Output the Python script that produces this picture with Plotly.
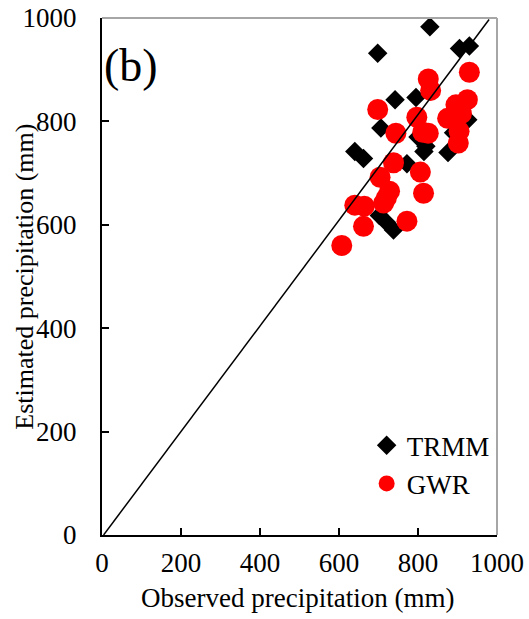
import plotly.graph_objects as go

# TRMM estimates vs observed
trmm_obs = [830, 698, 905, 930, 742, 795, 706, 926, 640, 662, 772, 815, 876, 702, 720, 738, 890, 800, 820]
trmm_est = [983, 932, 941, 946, 842, 846, 787, 803, 742, 728, 718, 742, 740, 618, 605, 590, 778, 770, 752]

# GWR estimates vs observed
gwr_obs = [607, 662, 772, 640, 664, 713, 720, 728, 738, 704, 806, 814, 744, 698, 797, 812, 826, 826, 832, 930, 925, 896, 875, 904, 902, 910]
gwr_est = [560, 597, 607, 638, 636, 642, 652, 665, 720, 692, 702, 661, 777, 823, 808, 779, 777, 882, 860, 895, 842, 832, 806, 781, 758, 815]

# 1:1 reference line
ref_x = [4, 980]
ref_y = [0, 997]

tick_vals = [0, 200, 400, 600, 800, 1000]
tick_text = ["0", "200", "400", "600", "800", "1000"]

FONT = "Liberation Serif"

fig = go.Figure()
fig.add_trace(go.Scatter(x=trmm_obs, y=trmm_est, mode="markers", name="TRMM",
                         marker=dict(symbol="diamond", size=15, color="black")))
fig.add_trace(go.Scatter(x=gwr_obs, y=gwr_est, mode="markers", name="GWR",
                         marker=dict(symbol="circle", size=21, color="#FF0000")))
fig.add_trace(go.Scatter(x=ref_x, y=ref_y, mode="lines", showlegend=False,
                         line=dict(color="black", width=1.5)))

fig.update_layout(
    width=529, height=619,
    margin=dict(l=102, r=32, t=18, b=84),
    paper_bgcolor="white", plot_bgcolor="white",
    font=dict(family=FONT, size=27, color="black"),
    showlegend=True,
    legend=dict(x=0.67, y=0.22, xanchor="left", yanchor="top",
                bgcolor="rgba(0,0,0,0)", font=dict(family=FONT, size=27),
                itemwidth=30, tracegroupgap=0),
    shapes=[
        dict(type="line", xref="paper", yref="paper", x0=0, x1=1, y0=1, y1=1,
             line=dict(color="#A6A6A6", width=2)),
        dict(type="line", xref="paper", yref="paper", x0=1, x1=1, y0=0, y1=1,
             line=dict(color="#A6A6A6", width=2)),
    ],
    annotations=[
        dict(text="(b)", xref="paper", yref="paper", x=0.0, y=0.962,
             xanchor="left", yanchor="top", showarrow=False,
             font=dict(family=FONT, size=46, color="black")),
        dict(text="Observed precipitation (mm)", xref="paper", yref="paper",
             x=0.495, y=-0.122, xanchor="center", yanchor="middle", showarrow=False,
             font=dict(family=FONT, size=27, color="black")),
        dict(text="Estimated precipitation (mm)", xref="paper", yref="paper",
             x=-0.197, y=0.5, xanchor="center", yanchor="middle", showarrow=False,
             textangle=-90,
             font=dict(family=FONT, size=26, color="black")),
    ],
)

fig.update_xaxes(range=[0, 1000], tickvals=tick_vals, ticktext=tick_text,
                 showgrid=False, zeroline=False, showline=True, linecolor="black", linewidth=2,
                 ticks="inside", ticklen=7, tickwidth=1.5, tickcolor="black",
                 ticklabelstandoff=3, automargin=False,
                 tickfont=dict(family=FONT, size=27))
fig.update_yaxes(range=[0, 1000], tickvals=tick_vals, ticktext=tick_text,
                 showgrid=False, zeroline=False, showline=True, linecolor="black", linewidth=2,
                 ticks="inside", ticklen=7, tickwidth=1.5, tickcolor="black",
                 ticklabelstandoff=18, automargin=False,
                 tickfont=dict(family=FONT, size=27))

fig.write_html("out.html")
